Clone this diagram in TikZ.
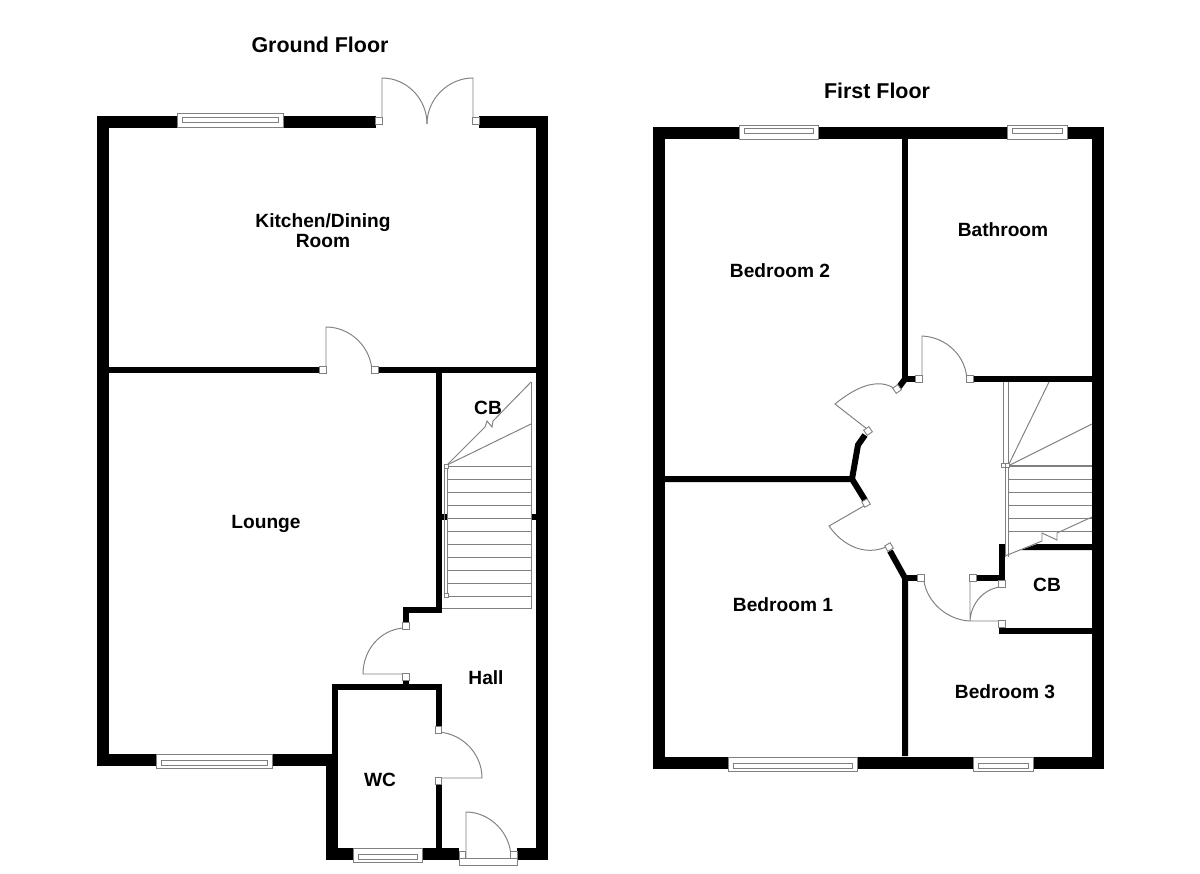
\documentclass[tikz,border=0pt]{standalone}
\usepackage{fontspec}
\setmainfont{Liberation Sans}
\tikzset{
  outerwall/.style = {line width = 0.24cm},
  innerwall/.style = {line width = 0.12cm},
  fine/.style = {draw = black!50, line width = 0.55pt},
  jamb/.style = {draw = black!50, line width = 0.5pt, fill = white, minimum size = 0.125cm, inner sep = 0pt},
  roomlabel/.style = {font = \bfseries\fontsize{10.9}{11.4}\selectfont, align = center, inner sep = 0pt},
  title/.style = {font = \bfseries\fontsize{12.2}{13}\selectfont, inner sep = 0pt}
}

\begin{document}
\begin{tikzpicture}[x = 0.02cm, y = -0.02cm]
        \useasboundingbox (0, 0) rectangle (1200, 873);
        % ground floor walls
        \draw[outerwall] (376, 122) -- (102.5, 122) -- (102.5, 760) -- (337, 760);
        \draw[outerwall] (479, 122) -- (541.5, 122) -- (541.5, 854) -- (517, 854);
        \draw[outerwall] (459, 854) -- (331.5, 854) -- (331.5, 755);
        \draw[innerwall] (108, 370) -- (320, 370);
        \draw[innerwall] (378, 370) -- (536, 370);
        \draw[innerwall] (439, 370) -- (439, 610) -- (406, 610) -- (406, 624);
        \draw[innerwall] (406, 680) -- (406, 687);
        \draw[innerwall] (334.5, 755) -- (334.5, 687) -- (438.5, 687) -- (438.5, 727);
        \draw[innerwall] (438.5, 784) -- (438.5, 848);
        \fill (442, 514) rectangle (447, 520);
        \fill (531, 514) rectangle (536, 520);
        % first floor walls
        \draw[outerwall] (659, 133) rectangle (1097.5, 762.5);
        \draw[innerwall] (905, 139) -- (905, 379) -- (916, 379);
        \draw[innerwall] (905, 379) -- (899, 387);
        \draw[innerwall] (974, 379) -- (1092, 379);
        \draw[innerwall] (865, 435) -- (858, 445) -- (852, 479) -- (665, 479);
        \draw[innerwall] (852, 479) -- (865, 500);
        \draw[innerwall] (890, 551) -- (905, 578) -- (905, 756);
        \draw[innerwall] (905, 578) -- (918, 578);
        \draw[innerwall] (976, 578) -- (1002, 578) -- (1002, 544);
        \draw[innerwall] (999, 631) -- (1092, 631);
        \fill (1021, 550) -- (1037, 544) -- (1092, 544) -- (1092, 550) -- cycle;
        % doors
        \draw[fine] (382, 124) -- (382, 78) .. controls (407, 78) and (427, 99) .. (427, 124);
        \draw[fine] (473, 124) -- (473, 78) .. controls (448, 78) and (427, 99) .. (427, 124);
        \draw[fine] (326, 373) -- (326, 327) .. controls (351, 327) and (372, 348) .. (372, 373);
        \draw[fine] (403, 628) .. controls (380, 630) and (363, 650) .. (363, 674) -- (409, 674);
        \draw[fine] (439, 732) .. controls (463, 734) and (482, 754) .. (482, 778) -- (436, 778);
        \draw[fine] (466, 858) -- (466, 812) .. controls (490, 812) and (511, 833) .. (511, 858);
        \draw[fine] (459, 858) rectangle (517, 865);
        \draw[fine] (922, 382) -- (922, 336) .. controls (946, 337) and (967, 356) .. (967, 382);
        \draw[fine] (867, 429) -- (835, 404) .. controls (858, 385) and (880, 378) .. (895, 389);
        \draw[fine] (869, 503) -- (829, 526) .. controls (843, 546) and (865, 556) .. (886, 547);
        \draw[fine] (924, 581) .. controls (927, 602) and (947, 620) .. (970, 621) -- (1000, 621);
        \draw[fine] (970, 581) -- (970, 621) .. controls (971, 603) and (984, 589) .. (1000, 587);
        \foreach \jx/\jy/\ja in {379/121/0, 476/121/0, 323/370/0, 375/370/0, 406/626/0, 406/677/0,
            438.5/730/0, 438.5/781/0, 462.5/855/0, 514/855/0, 919/379/0, 970/379/0, 897/389/35,
            868/431/35, 866/503/30, 889/547/30, 921/578/0, 973/578/0, 1002/584/0, 1002/624/0} {
          \node[jamb, rotate = \ja] at (\jx, \jy) {};
        }
        % windows
        \foreach \xa/\xb/\ya/\yb/\yc in {177/283/113/127/117, 156/272/754/768/760, 353/422/848/862/854,
            739/818/125/139/128.5, 1007/1067/125/139/128.5, 728/857/757/771/763, 973/1033/757/771/763} {
          \draw[fine, fill = white] (\xa, \ya) rectangle (\xb, \yb);
          \draw[fine] (\xa + 5, \yc) rectangle (\xb - 5, \yc + 5);
        }
        % ground floor stairs
        \foreach \ty in {466, 479, 492, 505, 518, 531, 544, 557, 570, 583, 596} {
          \draw[fine] (448, \ty) -- (531, \ty);
        }
        \draw[fine] (442, 608) -- (531, 608) -- (531, 382);
        \draw[fine] (444, 466) -- (444, 596);
        \draw[fine] (447, 466) -- (447, 596);
        \draw[fine] (447, 465) -- (485, 427) -- (487, 421) -- (492, 427) -- (493, 421) -- (531, 382);
        \draw[fine] (447, 465) -- (531, 424);
        \node[jamb, minimum size = 0.08cm] at (446, 466) {};
        \node[jamb, minimum size = 0.08cm] at (446, 595) {};
        % first floor stairs
        \foreach \ty in {479, 492, 505, 518, 531} {
          \draw[fine] (1008, \ty) -- (1092, \ty);
        }
        \draw[fine, line width = 0.8pt] (1008, 466) -- (1092, 466);
        \draw[fine] (1003, 382) -- (1003, 466);
        \draw[fine] (1008, 382) -- (1008, 557);
        \draw[fine] (1005, 466) -- (1005, 557);
        \draw[fine] (1008, 466) -- (1049, 382);
        \draw[fine] (1008, 466) -- (1092, 424);
        \draw[fine] (1005, 556) -- (1042, 541) -- (1042, 533) -- (1057, 540) -- (1057, 533) -- (1092, 517);
        \node[jamb, minimum size = 0.07cm] at (1003.5, 465.5) {};
        \node[jamb, minimum size = 0.07cm] at (1007.5, 465.5) {};
        % labels
        \node[title] (groundfloor) at (320, 45) {Ground Floor};
        \node[title] (firstfloor) at (877, 91) {First Floor};
        \node[roomlabel] (kitchen) at (323, 230.5) {Kitchen/Dining\\Room};
        \node[roomlabel] (lounge) at (266, 524) {Lounge};
        \node[roomlabel] (cupboard) at (488, 408) {CB};
        \node[roomlabel] (hall) at (486, 678) {Hall};
        \node[roomlabel] (wc) at (380, 780) {WC};
        \node[roomlabel] (bedroomtwo) at (780, 271) {Bedroom 2};
        \node[roomlabel] (bathroom) at (1003, 230) {Bathroom};
        \node[roomlabel] (bedroomone) at (783, 605) {Bedroom 1};
        \node[roomlabel] (landingcb) at (1047, 585) {CB};
        \node[roomlabel] (bedroomthree) at (1005, 692) {Bedroom 3};
      \end{tikzpicture}
\end{document}
